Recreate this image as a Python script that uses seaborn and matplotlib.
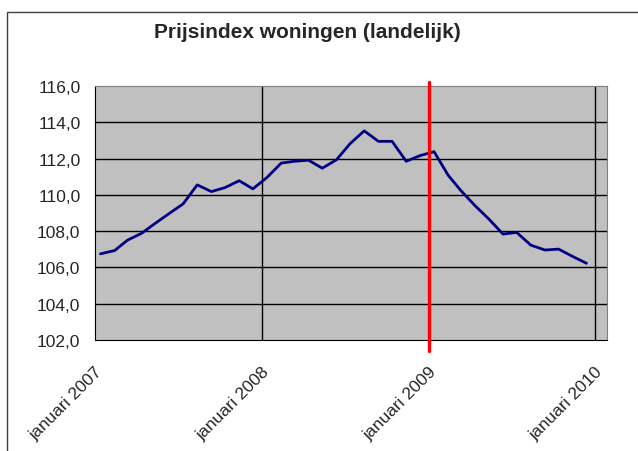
import matplotlib; matplotlib.use("Agg")
import matplotlib.pyplot as plt
from matplotlib.patches import Rectangle
import numpy as np
import pandas as pd
import seaborn as sns

# monthly house price index, jan 2007 - dec 2009
index_2007 = [106.75, 106.93, 107.50, 107.88, 108.43, 108.98,
              109.50, 110.55, 110.18, 110.40, 110.78, 110.33]
index_2008 = [110.96, 111.75, 111.85, 111.91, 111.47, 111.93,
              112.82, 113.53, 112.95, 112.95, 111.85, 112.16]
index_2009 = [112.38, 111.08, 110.23, 109.40, 108.67, 107.84,
              107.93, 107.23, 106.96, 107.01, 106.60, 106.23]
years = [2007, 2008, 2009, 2010]
tick_labels = ["januari 2007", "januari 2008", "januari 2009", "januari 2010"]
y_ticks = [102, 104, 106, 108, 110, 112, 114, 116]
marker_date = "2009-01-01"

months = pd.date_range("2007-01-01", periods=36, freq="MS") + pd.Timedelta(days=12)
df = pd.DataFrame({"maand": months, "index": index_2007 + index_2008 + index_2009})

sns.set_style("white")
plt.rcParams["font.family"] = ["Liberation Sans", "DejaVu Sans"]

fig = plt.figure(figsize=(6.38, 4.52), dpi=100)
fig.patch.set_facecolor("white")
fig.patches.append(Rectangle((7 / 638, -0.05), 1.2, 1 - 13 / 452 + 0.05, fill=False,
                             edgecolor="#404040", lw=1, transform=fig.transFigure))
ax = fig.add_axes([95 / 638, 1 - 341 / 452, 512 / 638, 254 / 452])
ax.set_facecolor("#C0C0C0")

sns.lineplot(data=df, x="maand", y="index", color="#000080", lw=2.0, ax=ax)

ax.set_ylim(102, 116)
ax.set_yticks(y_ticks)
ax.set_yticklabels([f"{v:.1f}".replace(".", ",") for v in y_ticks], fontsize=12.5)
ax.set_xlim(pd.Timestamp("2007-01-01"), pd.Timestamp("2010-01-27"))
ax.set_xticks([pd.Timestamp(f"{y}-01-01") for y in years])
ax.set_xticklabels(tick_labels, fontsize=12.5, rotation=45, ha="right", rotation_mode="anchor")

for y in y_ticks[1:-1]:
    ax.axhline(y, color="black", lw=1, zorder=1)
for y in years[1:]:
    ax.axvline(pd.Timestamp(f"{y}-01-01"), color="black", lw=1, zorder=1)

ax.axvline(pd.Timestamp(marker_date), ymin=-0.043, ymax=1.016, color="#FF0000",
           lw=2.4, clip_on=False, zorder=5)

ax.tick_params(axis="both", direction="out", length=5, width=1, color="black")
ax.tick_params(axis="y", pad=5.5)
ax.tick_params(axis="x", pad=12)
ax.set_xlabel(""); ax.set_ylabel("")
for side in ["left", "bottom"]:
    ax.spines[side].set_color("black")
for side in ["top", "right"]:
    ax.spines[side].set_color("#808080")

fig.text(307 / 638, 1 - 33 / 452, "Prijsindex woningen (landelijk)", ha="center", va="center",
         fontsize=15, fontweight="bold")

fig.savefig("out.png", dpi=100)
